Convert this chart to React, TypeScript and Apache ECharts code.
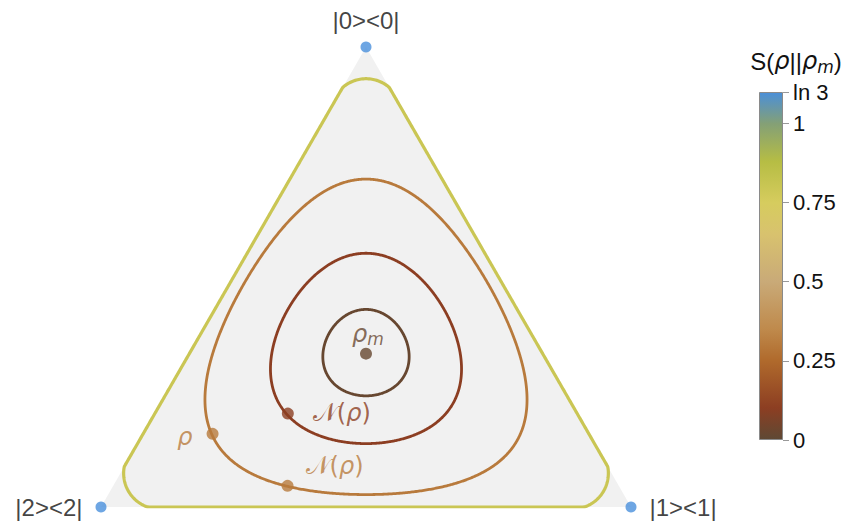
import React, { useEffect, useRef } from "react";
import * as echarts from "echarts";

const LN3 = Math.log(3);
const SQ = Math.sqrt(3) / 2;

// ---- data ----
const vertexLabels = ["|0><0|", "|1><1|", "|2><2|"];
const vertexProbs: number[][] = [
  [1, 0, 0],
  [0, 1, 0],
  [0, 0, 1],
];
const contourLevels = [0.02, 0.1, 0.3, 0.8];
const colorbarTicks = [0, 0.25, 0.5, 0.75, 1, LN3];
const colorbarTickLabels = ["0", "0.25", "0.5", "0.75", "1", "ln 3"];
const stateNames = ["ρm", "ρ", "N(ρ) outer", "N(ρ) middle"];
const stateProbs: number[][] = [
  [1 / 3, 1 / 3, 1 / 3],
  [0.159, 0.131, 0.71],
  [0.046, 0.329, 0.625],
  [0.203, 0.251, 0.546],
];

// colormap (value -> colour)
const cmapValues = [0, 0.1, 0.25, 0.35, 0.5, 0.65, 0.75, 0.88, 1.0, LN3];
const cmapColors = [
  "#5e4934",
  "#8c3e22",
  "#b06a2c",
  "#bf8a4c",
  "#c9aa78",
  "#d8c26e",
  "#d6cc5e",
  "#b6bd44",
  "#84a076",
  "#4b8fd8",
];

function hexToRgb(h: string) {
  const n = parseInt(h.slice(1), 16);
  return [(n >> 16) & 255, (n >> 8) & 255, n & 255];
}
function cmap(v: number) {
  for (let i = 0; i < cmapValues.length - 1; i++) {
    if (v <= cmapValues[i + 1]) {
      const t = (v - cmapValues[i]) / (cmapValues[i + 1] - cmapValues[i]);
      const a = hexToRgb(cmapColors[i]);
      const b = hexToRgb(cmapColors[i + 1]);
      const c = a.map((x, k) => Math.round(x + (b[k] - x) * t));
      return `rgb(${c[0]},${c[1]},${c[2]})`;
    }
  }
  return cmapColors[cmapColors.length - 1];
}

function toXY(p: number[]) {
  return [p[1] + p[0] * 0.5, p[0] * SQ];
}
function toP(x: number, y: number) {
  const p0 = y / SQ;
  const p1 = x - p0 / 2;
  return [p0, p1, 1 - p0 - p1];
}
function relEnt(p: number[]) {
  let s = LN3;
  for (const v0 of p) {
    const v = Math.max(v0, 0);
    if (v > 0) s += v * Math.log(v);
  }
  return s;
}

function contour(level: number, n = 1440) {
  const cx = 0.5;
  const cy = SQ / 3;
  const pts: number[][] = [];
  for (let i = 0; i <= n + 2; i++) {
    const t = (2 * Math.PI * i) / n + Math.PI / 2;
    const dx = Math.cos(t);
    const dy = Math.sin(t);
    let lo = 0;
    let hi = 1;
    for (let k = 0; k < 50; k++) {
      const m = (lo + hi) / 2;
      const p = toP(cx + m * dx, cy + m * dy);
      if (Math.min(p[0], p[1], p[2]) >= 0) lo = m;
      else hi = m;
    }
    const rmax = lo;
    let r = rmax;
    if (relEnt(toP(cx + rmax * dx, cy + rmax * dy)) > level) {
      let a = 0;
      let b = rmax;
      for (let k = 0; k < 50; k++) {
        const m = (a + b) / 2;
        if (relEnt(toP(cx + m * dx, cy + m * dy)) < level) a = m;
        else b = m;
      }
      r = (a + b) / 2;
    }
    pts.push([cx + r * dx, cy + r * dy]);
  }
  return pts;
}

const FONT = "'Liberation Sans', Arial, sans-serif";
const MATH = "'DejaVu Sans', 'Noto Sans', sans-serif";

export default function App() {
  const ref = useRef<HTMLDivElement>(null);
  useEffect(() => {
    if (!ref.current) return;
    const chart = echarts.init(ref.current, undefined, { renderer: "svg" });

    const contourSeries = contourLevels.map((lv, i) => ({
      type: "line",
      name: "S=" + lv,
      xAxisIndex: 0,
      yAxisIndex: 0,
      data: contour(lv),
      showSymbol: false,
      symbol: "none",
      smooth: false,
      silent: true,
      z: 3,
      lineStyle: { color: cmap(lv), width: i === 3 ? 3.2 : 2.8, cap: "round", join: "round" },
    }));

    const vertexLabelCfg = [
      { position: "top", distance: 9 },
      { position: "right", distance: 13 },
      { position: "left", distance: 13 },
    ];

    const nLabel = "{c|𝒩}{u|(}{i|ρ}{u|)}";
    const stateLabelCfg: any[] = [
      { show: true, position: "top", distance: 0, offset: [2, 0], formatter: "{i|ρ}{s|m}" },
      { show: true, position: "left", distance: 14, offset: [0, 3], formatter: "{i|ρ}" },
      { show: true, position: "right", distance: 0, offset: [12, -20], formatter: nLabel },
      { show: true, position: "right", distance: 19, offset: [0, -1], formatter: nLabel },
    ];
    const stateColors = [cmap(0.02), cmap(0.3), cmap(0.3), cmap(0.1)];

    const option: any = {
      animation: false,
      backgroundColor: "#ffffff",
      grid: [
        { left: 101, top: 47, width: 530, height: 460 },
        { left: 759, top: 92, width: 24, height: 348 },
      ],
      xAxis: [
        { type: "value", gridIndex: 0, min: 0, max: 1, show: false },
        { type: "category", gridIndex: 1, data: ["S"], show: false },
      ],
      yAxis: [
        { type: "value", gridIndex: 0, min: 0, max: SQ, show: false },
        {
          type: "value",
          gridIndex: 1,
          min: 0,
          max: LN3,
          interval: 0.25,
          position: "right",
          splitLine: { show: false },
          axisLine: { show: false },
          axisTick: { show: true, length: 6, lineStyle: { color: "#999", width: 1 } },
          axisLabel: {
            show: true,
            showMinLabel: true,
            showMaxLabel: true,
            margin: 10,
            fontSize: 22,
            fontFamily: FONT,
            color: "#111",
            formatter: (v: number) => {
              let best = 0;
              colorbarTicks.forEach((t, k) => {
                if (Math.abs(t - v) < Math.abs(colorbarTicks[best] - v)) best = k;
              });
              return colorbarTickLabels[best];
            },
          },
        },
      ],
      graphic: [
        {
          type: "text",
          x: 796,
          y: 61,
          style: {
            text: "{n|S(}{i|ρ}{n|||}{i|ρ}{s|m}{n|)}",
            align: "center",
            verticalAlign: "middle",
            rich: {
              n: { fontSize: 24, fontFamily: FONT, fill: "#111" },
              i: { fontSize: 24, fontFamily: MATH, fontStyle: "italic", fill: "#111" },
              s: { fontSize: 17, fontFamily: MATH, fontStyle: "italic", fill: "#111", padding: [11, 0, 0, 0] },
            },
          },
        },
      ],
      series: [
        {
          type: "custom",
          xAxisIndex: 0,
          yAxisIndex: 0,
          silent: true,
          z: 1,
          data: [[0.5, 0.3]],
          renderItem: (_p: any, api: any) => ({
            type: "polygon",
            shape: { points: vertexProbs.map((p) => api.coord(toXY(p))) },
            style: { fill: "#f1f1f1" },
          }),
        },
        ...contourSeries,
        {
          type: "scatter",
          xAxisIndex: 0,
          yAxisIndex: 0,
          symbolSize: 11,
          silent: true,
          z: 5,
          itemStyle: { color: "#4a90dc" },
          data: vertexProbs.map((p, i) => ({
            value: toXY(p),
            name: vertexLabels[i],
            label: {
              show: true,
              formatter: vertexLabels[i],
              fontSize: 24,
              fontFamily: FONT,
              color: "#111",
              ...vertexLabelCfg[i],
            },
          })),
        },
        {
          type: "scatter",
          xAxisIndex: 0,
          yAxisIndex: 0,
          symbolSize: 12,
          silent: true,
          z: 6,
          data: stateProbs.map((p, i) => ({
            value: toXY(p),
            name: stateNames[i],
            itemStyle: { color: stateColors[i] },
            label: {
              ...stateLabelCfg[i],
              rich: {
                i: { fontSize: 24, fontFamily: MATH, fontStyle: "italic", color: stateColors[i] },
                u: { fontSize: 24, fontFamily: MATH, color: stateColors[i] },
                c: { fontSize: 25, fontFamily: MATH, color: stateColors[i] },
                s: {
                  fontSize: 17,
                  fontFamily: MATH,
                  fontStyle: "italic",
                  color: stateColors[i],
                  padding: [11, 0, 0, 0],
                },
              },
            },
          })),
        },
        {
          type: "bar",
          xAxisIndex: 1,
          yAxisIndex: 1,
          barWidth: "100%",
          silent: true,
          data: [LN3],
          itemStyle: {
            borderColor: "#8a8a8a",
            borderWidth: 1,
            color: new echarts.graphic.LinearGradient(
              0,
              1,
              0,
              0,
              cmapValues.map((v, k) => ({ offset: v / LN3, color: cmapColors[k] }))
            ),
          },
        },
      ],
    };
    chart.setOption(option);
    return () => chart.dispose();
  }, []);
  return (
    <div
      ref={ref}
      style={{ position: "fixed", left: 0, top: 0, width: 848, height: 524 }}
    />
  );
}
